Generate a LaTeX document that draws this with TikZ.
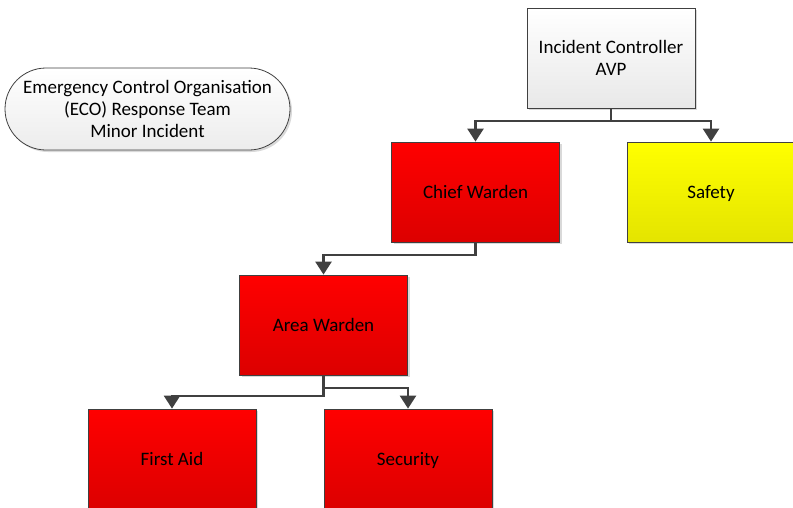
\documentclass[tikz,border=0pt]{standalone}
\usepackage{fontspec}
\setmainfont{Carlito}
\usetikzlibrary{shadows,arrows.meta}
\definecolor{linegray}{HTML}{404040}
\tikzset{
  box/.style={draw=linegray, line width=0.8pt, minimum width=168pt, minimum height=100pt,
    inner sep=0pt, font=\fontsize{19}{22}\selectfont,
    drop shadow={shadow xshift=2pt, shadow yshift=-2pt, fill=black!25, opacity=0.6}},
  onebox/.style={box, text height=14pt, text depth=1pt},
  redbox/.style={onebox, top color=red, bottom color={rgb,255:red,220;green,0;blue,0}},
  yellowbox/.style={onebox, top color={rgb,255:red,255;green,255;blue,0}, bottom color={rgb,255:red,228;green,228;blue,0}},
  graybox/.style={box, top color=white, bottom color={rgb,255:red,232;green,232;blue,232}, align=center},
  conn/.style={draw=linegray, line width=2.5pt, -{Triangle[length=13pt,width=16pt]}},
}
\begin{document}
\begin{tikzpicture}[x=1pt,y=-1pt]
\useasboundingbox (0,0) rectangle (793,507);
\node[draw=linegray, line width=0.8pt, rounded corners=41pt, minimum width=285pt, minimum height=82pt,
  top color=white, bottom color={rgb,255:red,236;green,236;blue,236}, align=center,
  font=\fontsize{19}{22}\selectfont,
  drop shadow={shadow xshift=2pt, shadow yshift=-2pt, fill=black!25, opacity=0.6}]
  (eco) at (147.5,109) {Emergency Control Organisation\\(ECO) Response Team\\Minor Incident};
\node[graybox] (ic) at (611,58) {Incident Controller\\AVP};
\node[redbox] (cw) at (475.5,192) {Chief Warden};
\node[yellowbox] (sf) at (711,192) {Safety};
\node[redbox] (aw) at (323.5,325) {Area Warden};
\node[redbox] (fa) at (172,459) {First Aid};
\node[redbox] (se) at (408,459) {Security};
\coordinate (j1) at (611,121);
\coordinate (j2) at (475.5,255);
\draw[conn] (ic.south) -- (j1) -| (cw.north);
\draw[conn] (j1) -| (sf.north);
\draw[conn] (cw.south) -- (j2) -| (aw.north);
\draw[conn] (aw.south) |- (250,396) -| (fa.north);
\draw[conn] (aw.south) |- (360,388) -| (se.north);
\end{tikzpicture}
\end{document}
